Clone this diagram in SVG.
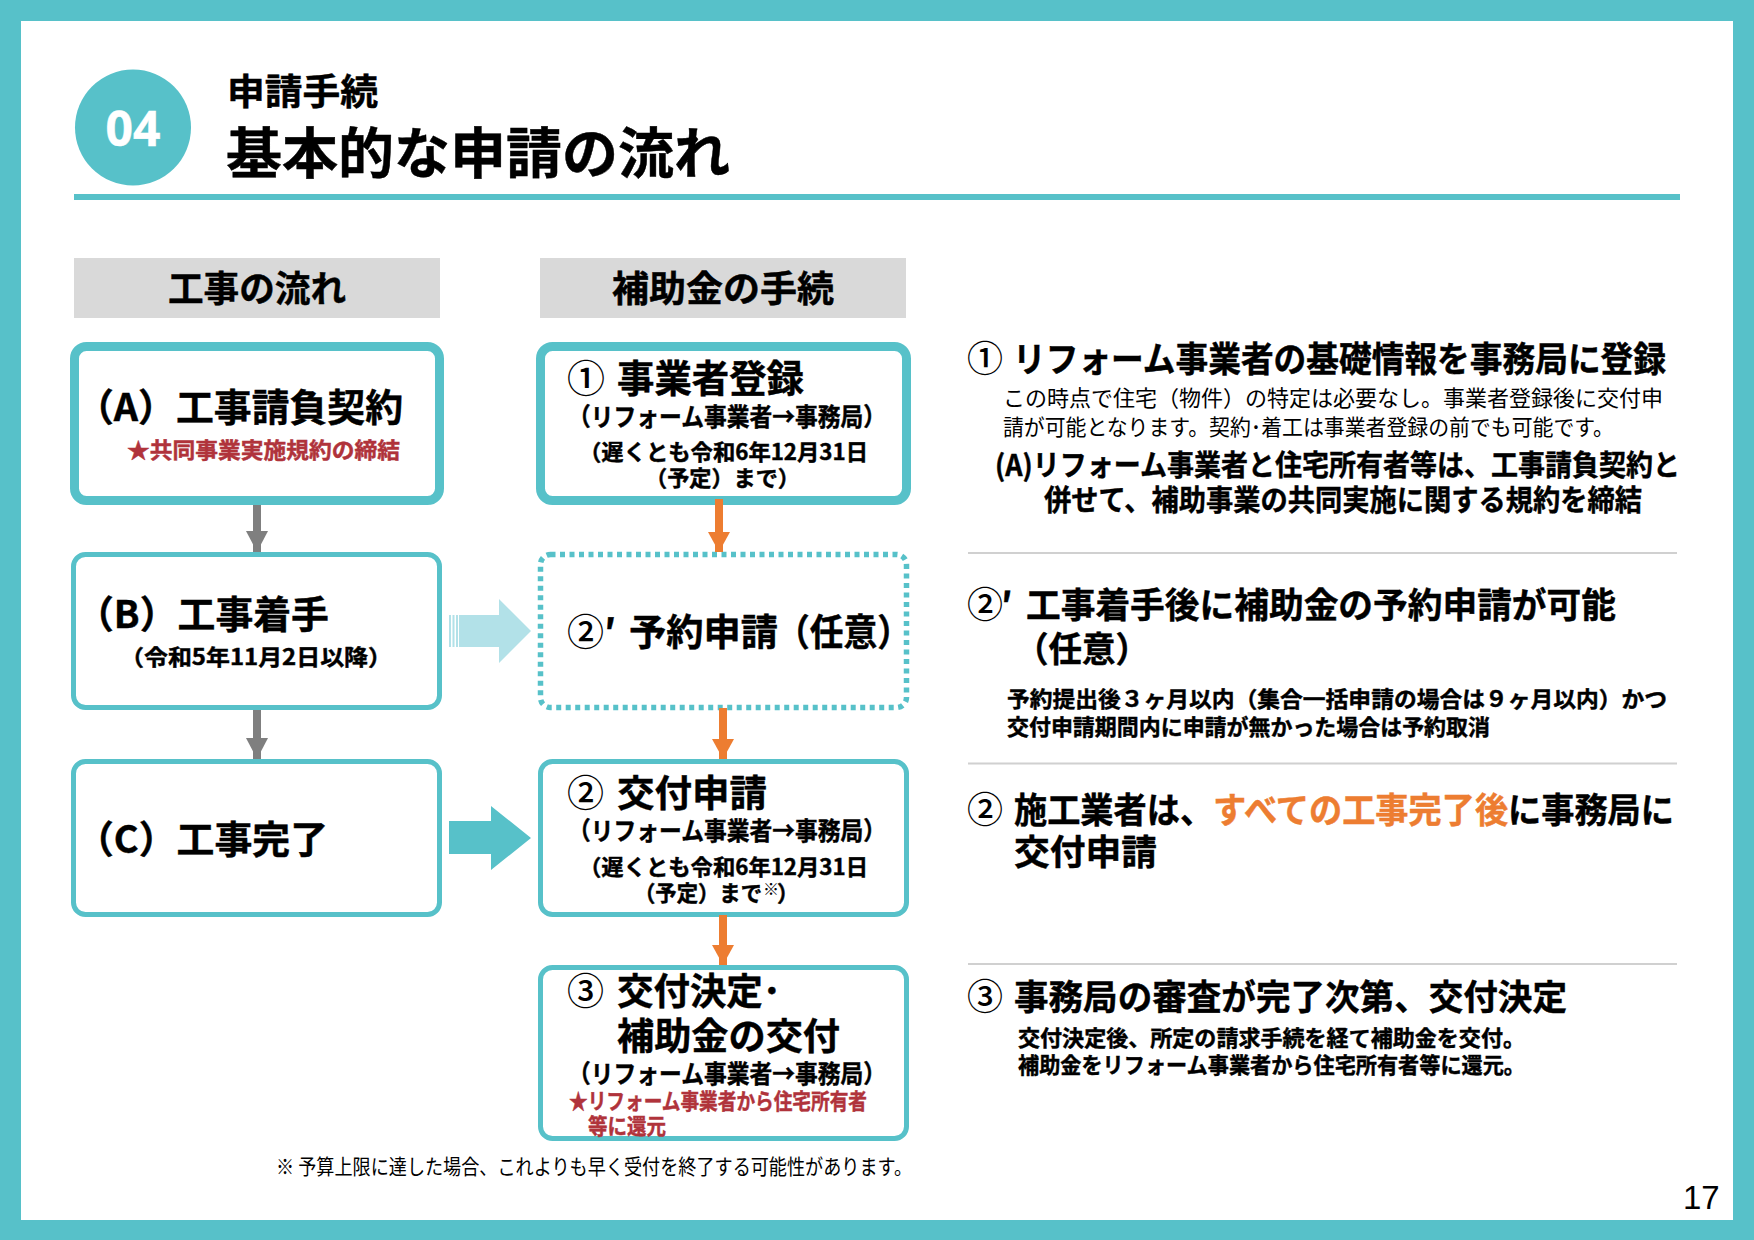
<svg xmlns="http://www.w3.org/2000/svg" width="1754" height="1240" viewBox="0 0 1754 1240">
<defs>
<style>
text{font-family:"Noto Sans CJK JP","Noto Sans",sans-serif;fill:#000;font-weight:700;stroke:#000;stroke-width:.45}
.reg{font-weight:400;stroke:none}
.red{fill:#B0333B;stroke:#B0333B}
.or{fill:#ED7D31;stroke:#ED7D31}
.box{fill:#fff;stroke:#57C1C9;stroke-width:5}
.boxa{fill:#fff;stroke:#57C1C9;stroke-width:9}
.head{fill:#D9D9D9}
.rule{stroke:#D0D0D0;stroke-width:2}
.cn{font-weight:500;stroke:none}
</style>
<marker id="ag" markerUnits="userSpaceOnUse" markerWidth="22" markerHeight="22" refX="21" refY="11" orient="auto"><path d="M0 0L21 11L0 22z" fill="#7F7F7F"/></marker>
<marker id="ao" markerUnits="userSpaceOnUse" markerWidth="20" markerHeight="22" refX="20" refY="11" orient="auto"><path d="M0 0L20 11L0 22z" fill="#ED7D31"/></marker>
</defs>
<rect width="1754" height="1240" fill="#57C1C9"/>
<rect x="21" y="21" width="1712" height="1199" fill="#fff"/>
<g id="title">
<circle cx="133" cy="127.500" r="58" fill="#57C1C9"/>
<text x="133" y="146" font-size="48" text-anchor="middle" style="fill:#fff;stroke:#fff;font-family:'Noto Sans',sans-serif">04</text>
<text x="227" y="105" font-size="36" textLength="151" lengthAdjust="spacingAndGlyphs">申請手続</text>
<text x="226" y="173" font-size="55" textLength="504" lengthAdjust="spacingAndGlyphs">基本的な申請の流れ</text>
<rect x="74" y="194" width="1606" height="6" fill="#57C1C9"/>
</g>
<g id="head-a"><rect class="head" x="74" y="258" width="366" height="60"/>
<text x="168" y="302" font-size="36" textLength="178" lengthAdjust="spacingAndGlyphs">工事の流れ</text></g>
<g id="head-b"><rect class="head" x="540" y="258" width="366" height="60"/>
<text x="612" y="302" font-size="36" textLength="222" lengthAdjust="spacingAndGlyphs">補助金の手続</text></g>
<g id="node-a"><rect class="boxa" x="74.500" y="346.500" width="365" height="154" rx="12"/>
<text x="76" y="421" font-size="38" textLength="327" lengthAdjust="spacingAndGlyphs">（A）工事請負契約</text>
<text class="red" x="127" y="458" font-size="22" textLength="273" lengthAdjust="spacingAndGlyphs">★共同事業実施規約の締結</text></g>
<g id="node-1"><rect class="boxa" x="540.500" y="346.500" width="366" height="154" rx="12"/>
<text class="cn" x="567" y="392" font-size="38">①</text>
<text x="617" y="392" font-size="38" textLength="187" lengthAdjust="spacingAndGlyphs">事業者登録</text>
<text x="568" y="426" font-size="25" textLength="318" lengthAdjust="spacingAndGlyphs">（リフォーム事業者→事務局）</text>
<text x="579" y="460" font-size="22" textLength="289" lengthAdjust="spacingAndGlyphs">（遅くとも令和6年12月31日</text>
<text x="645" y="486" font-size="22" textLength="155" lengthAdjust="spacingAndGlyphs">（予定）まで）</text></g>
<g id="node-b"><rect class="box" x="73.500" y="554.500" width="366" height="153" rx="12"/>
<text x="76" y="628" font-size="38" textLength="253" lengthAdjust="spacingAndGlyphs">（B）工事着手</text>
<text x="120" y="665" font-size="22" textLength="272" lengthAdjust="spacingAndGlyphs">（令和5年11月2日以降）</text></g>
<g id="node-2p"><rect x="540.500" y="554.500" width="366" height="153" rx="10" fill="#fff" stroke="#57C1C9" stroke-width="5.500" stroke-dasharray="5 4.500"/>
<text class="cn" x="567" y="646" font-size="37">②</text>
<text x="604" y="646" font-size="37">′</text>
<text x="629" y="646" font-size="37" textLength="149" lengthAdjust="spacingAndGlyphs">予約申請</text>
<text x="776" y="646" font-size="37" textLength="135" lengthAdjust="spacingAndGlyphs">（任意）</text></g>
<g id="node-c"><rect class="box" x="73.500" y="761.500" width="366" height="153" rx="12"/>
<text x="76" y="853" font-size="38" textLength="252" lengthAdjust="spacingAndGlyphs">（C）工事完了</text></g>
<g id="node-2"><rect class="box" x="540.500" y="761.500" width="366" height="153" rx="12"/>
<text class="cn" x="567" y="807" font-size="37">②</text>
<text x="617" y="807" font-size="37" textLength="150" lengthAdjust="spacingAndGlyphs">交付申請</text>
<text x="568" y="840" font-size="25" textLength="318" lengthAdjust="spacingAndGlyphs">（リフォーム事業者→事務局）</text>
<text x="579" y="875" font-size="22" textLength="289" lengthAdjust="spacingAndGlyphs">（遅くとも令和6年12月31日</text>
<text x="634" y="901" font-size="22" textLength="128" lengthAdjust="spacingAndGlyphs">（予定）まで</text>
<text class="reg" x="763" y="895" font-size="16">※</text>
<text x="777" y="901" font-size="22">）</text></g>
<g id="node-3"><rect class="box" x="540.500" y="967.500" width="366" height="171" rx="12"/>
<text class="cn" x="567" y="1005" font-size="37">③</text>
<text x="617" y="1005" font-size="37" textLength="164" lengthAdjust="spacingAndGlyphs">交付決定･</text>
<text x="617" y="1050" font-size="37" textLength="223" lengthAdjust="spacingAndGlyphs">補助金の交付</text>
<text x="568" y="1083" font-size="25" textLength="318" lengthAdjust="spacingAndGlyphs">（リフォーム事業者→事務局）</text>
<text class="red" x="569" y="1109" font-size="22" textLength="298" lengthAdjust="spacingAndGlyphs">★リフォーム事業者から住宅所有者</text>
<text class="red" x="588" y="1134" font-size="22" textLength="78" lengthAdjust="spacingAndGlyphs">等に還元</text></g>
<g id="connectors">
<g fill="none" stroke-width="8">
<path d="M257 505V552" stroke="#7F7F7F" marker-end="url(#ag)"/>
<path d="M257 710V759" stroke="#7F7F7F" marker-end="url(#ag)"/>
<path d="M719 499V552" stroke="#ED7D31" marker-end="url(#ao)"/>
<path d="M723 708V759" stroke="#ED7D31" marker-end="url(#ao)"/>
<path d="M723 915V965" stroke="#ED7D31" marker-end="url(#ao)"/>
</g>
<g fill="#B2E1E8"><path d="M459 615H499V599L531 631L499 663V647H459z"/><rect x="449" y="615" width="2" height="32"/><rect x="452.500" y="615" width="2" height="32"/><rect x="456" y="615" width="2" height="32"/></g>
<path d="M449 821H491V806L531 838L491 870V854H449z" fill="#57C1C9"/>
</g>
<text class="reg" x="276" y="1174" font-size="21" textLength="636" lengthAdjust="spacingAndGlyphs">※ 予算上限に達した場合、これよりも早く受付を終了する可能性があります。</text>
<g id="desc-1">
<text class="cn" x="967" y="372" font-size="36">①</text>
<text x="1013" y="372" font-size="35" textLength="653" lengthAdjust="spacingAndGlyphs">リフォーム事業者の基礎情報を事務局に登録</text>
<text class="reg" x="1003" y="406" font-size="22" textLength="660" lengthAdjust="spacingAndGlyphs">この時点で住宅（物件）の特定は必要なし。事業者登録後に交付申</text>
<text class="reg" x="1003" y="435" font-size="22" textLength="611" lengthAdjust="spacingAndGlyphs">請が可能となります。契約･着工は事業者登録の前でも可能です。</text>
<text x="995" y="476" font-size="29" textLength="685" lengthAdjust="spacingAndGlyphs">(A)リフォーム事業者と住宅所有者等は、工事請負契約と</text>
<text x="1044" y="511" font-size="29" textLength="598" lengthAdjust="spacingAndGlyphs">併せて、補助事業の共同実施に関する規約を締結</text>
</g>
<line class="rule" x1="968" y1="553" x2="1677" y2="553"/>
<g id="desc-2p">
<text class="cn" x="967" y="618" font-size="36">②</text>
<text x="1001" y="618" font-size="35">′</text>
<text x="1026" y="618" font-size="35" textLength="590" lengthAdjust="spacingAndGlyphs">工事着手後に補助金の予約申請が可能</text>
<text x="1015" y="662" font-size="35" textLength="134" lengthAdjust="spacingAndGlyphs">（任意）</text>
<text x="1007" y="707" font-size="22" textLength="660" lengthAdjust="spacingAndGlyphs">予約提出後３ヶ月以内（集合一括申請の場合は９ヶ月以内）かつ</text>
<text x="1007" y="735" font-size="22" textLength="483" lengthAdjust="spacingAndGlyphs">交付申請期間内に申請が無かった場合は予約取消</text>
</g>
<line class="rule" x1="968" y1="763.500" x2="1677" y2="763.500"/>
<g id="desc-2">
<text class="cn" x="967" y="823" font-size="36">②</text>
<text x="1014" y="823" font-size="35" textLength="660" lengthAdjust="spacingAndGlyphs">施工業者は、<tspan class="or">すべての工事完了後</tspan>に事務局に</text>
<text x="1014" y="865" font-size="35" textLength="143" lengthAdjust="spacingAndGlyphs">交付申請</text>
</g>
<line class="rule" x1="968" y1="964" x2="1677" y2="964"/>
<g id="desc-3">
<text class="cn" x="967" y="1010" font-size="36">③</text>
<text x="1014" y="1010" font-size="35" textLength="553" lengthAdjust="spacingAndGlyphs">事務局の審査が完了次第、交付決定</text>
<text x="1018" y="1046" font-size="22" textLength="507" lengthAdjust="spacingAndGlyphs">交付決定後、所定の請求手続を経て補助金を交付。</text>
<text x="1018" y="1073" font-size="22" textLength="507" lengthAdjust="spacingAndGlyphs">補助金をリフォーム事業者から住宅所有者等に還元。</text>
</g>
<text class="reg" x="1683" y="1209" font-size="33" style="font-family:'Liberation Sans',sans-serif">17</text>
</svg>
